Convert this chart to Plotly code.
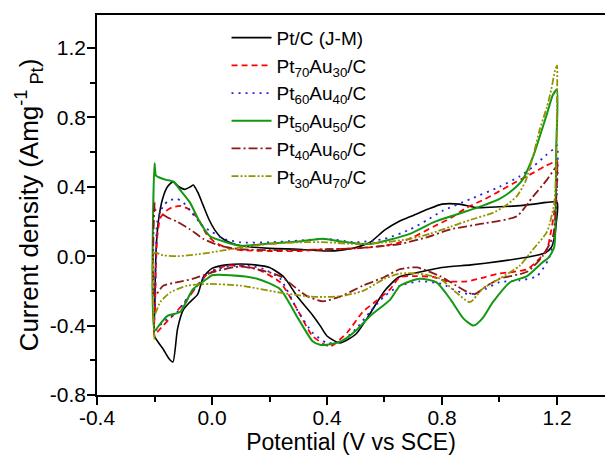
import plotly.graph_objects as go

# ---------------- data ----------------
x_ticks = [-0.4, 0.0, 0.4, 0.8, 1.2]
x_ticklabels = ["-0.4", "0.0", "0.4", "0.8", "1.2"]
y_ticks = [-0.8, -0.4, 0.0, 0.4, 0.8, 1.2]
y_ticklabels = ["-0.8", "-0.4", "0.0", "0.4", "0.8", "1.2"]
x_minor = [-0.2, 0.2, 0.6, 1.0]
y_minor = [-0.6, -0.2, 0.2, 0.6, 1.0]

series_names = [
    "Pt/C (J-M)",
    "Pt<sub>70</sub>Au<sub>30</sub>/C",
    "Pt<sub>60</sub>Au<sub>40</sub>/C",
    "Pt<sub>50</sub>Au<sub>50</sub>/C",
    "Pt<sub>40</sub>Au<sub>60</sub>/C",
    "Pt<sub>30</sub>Au<sub>70</sub>/C",
]

# Pt/C (J-M)
ptc_fwd_x = [-0.2, -0.199, -0.197, -0.193, -0.185, -0.172, -0.155, -0.135, -0.115, -0.095, -0.075, -0.065, -0.05,
             -0.03, -0.01, 0.01, 0.03, 0.06, 0.1, 0.2, 0.3, 0.4, 0.45, 0.5, 0.55, 0.6, 0.65, 0.7, 0.75, 0.8, 0.86,
             0.92, 1.0, 1.06, 1.12, 1.2]
ptc_fwd_y = [-0.46, -0.3, -0.1, 0.08, 0.22, 0.33, 0.40, 0.43, 0.40, 0.385, 0.40, 0.41, 0.37, 0.29, 0.21, 0.15,
             0.11, 0.08, 0.06, 0.045, 0.04, 0.03, 0.035, 0.05, 0.08, 0.15, 0.2, 0.235, 0.27, 0.30, 0.30, 0.28,
             0.285, 0.29, 0.30, 0.31]
ptc_rev_x = [1.198, 1.19, 1.18, 1.16, 1.13, 1.1, 1.0, 0.9, 0.8, 0.7, 0.65, 0.6, 0.55, 0.5, 0.445, 0.4, 0.376,
             0.35, 0.3, 0.25, 0.2, 0.15, 0.1, 0.05, 0.0, -0.03, -0.05, -0.08, -0.1, -0.12, -0.136, -0.15, -0.17,
             -0.2]
ptc_rev_y = [0.2, 0.1, 0.05, 0.02, 0.005, -0.005, -0.03, -0.05, -0.065, -0.1, -0.12, -0.2, -0.33, -0.45, -0.50,
             -0.46, -0.40, -0.34, -0.24, -0.12, -0.065, -0.05, -0.045, -0.05, -0.07, -0.12, -0.22, -0.27, -0.31,
             -0.42, -0.61, -0.59, -0.535, -0.46]

# Pt70Au30/C
a70_fwd_x = [-0.2, -0.198, -0.195, -0.19, -0.18, -0.16, -0.14, -0.11, -0.08, -0.05, -0.02, 0.01, 0.05, 0.1, 0.2,
             0.3, 0.4, 0.5, 0.6, 0.654, 0.7, 0.77, 0.83, 0.887, 0.95, 1.0, 1.06, 1.117, 1.16, 1.186, 1.2]
a70_fwd_y = [-0.45, -0.3, -0.05, 0.12, 0.22, 0.26, 0.28, 0.29, 0.27, 0.22, 0.13, 0.08, 0.05, 0.035, 0.03, 0.03,
             0.04, 0.045, 0.06, 0.08, 0.11, 0.17, 0.22, 0.28, 0.33, 0.375, 0.43, 0.48, 0.52, 0.54, 0.55]
a70_rev_x = [1.198, 1.19, 1.18, 1.165, 1.13, 1.096, 1.05, 1.0, 0.95, 0.887, 0.82, 0.77, 0.713, 0.654, 0.62, 0.57,
             0.525, 0.47, 0.41, 0.35, 0.296, 0.237, 0.157, 0.1, 0.05, 0.017, -0.02, -0.042, -0.087, -0.135, -0.17,
             -0.2]
a70_rev_y = [0.4, 0.25, 0.15, 0.04, -0.03, -0.075, -0.09, -0.10, -0.12, -0.145, -0.145, -0.12, -0.115, -0.12,
             -0.19, -0.26, -0.32, -0.44, -0.52, -0.46, -0.305, -0.15, -0.075, -0.055, -0.055, -0.075, -0.11,
             -0.15, -0.25, -0.34, -0.4, -0.45]

# Pt60Au40/C
a60_fwd_x = [-0.2, -0.198, -0.195, -0.19, -0.17, -0.15, -0.122, -0.1, -0.07, -0.03, 0.0, 0.04, 0.1, 0.2, 0.3,
             0.4, 0.5, 0.6, 0.69, 0.75, 0.8, 0.9, 1.0, 1.07, 1.12, 1.16, 1.186, 1.2]
a60_fwd_y = [-0.43, -0.25, 0.0, 0.2, 0.29, 0.32, 0.33, 0.31, 0.25, 0.17, 0.14, 0.1, 0.08, 0.08, 0.09, 0.1, 0.08,
             0.1, 0.155, 0.21, 0.26, 0.33, 0.40, 0.46, 0.52, 0.58, 0.615, 0.64]
a60_rev_x = [1.198, 1.19, 1.17, 1.13, 1.07, 1.0, 0.95, 0.9, 0.85, 0.8, 0.723, 0.654, 0.6, 0.55, 0.5, 0.45, 0.40,
             0.35, 0.3, 0.237, 0.18, 0.13, 0.05, -0.007, -0.052, -0.09, -0.12, -0.17, -0.2]
a60_rev_y = [0.3, 0.1, -0.02, -0.115, -0.14, -0.15, -0.19, -0.22, -0.2, -0.16, -0.145, -0.17, -0.23, -0.32, -0.42,
             -0.49, -0.50, -0.44, -0.32, -0.13, -0.075, -0.055, -0.06, -0.09, -0.17, -0.25, -0.32, -0.38, -0.43]

# Pt50Au50/C
a50_fwd_x = [-0.2, -0.2, -0.195, -0.185, -0.16, -0.135, -0.11, -0.077, -0.042, -0.007, 0.05, 0.1, 0.18, 0.3,
             0.386, 0.45, 0.55, 0.69, 0.77, 0.85, 0.94, 1.0, 1.037, 1.08, 1.117, 1.14, 1.165, 1.186, 1.2]
a50_fwd_y = [-0.43, 0.535, 0.465, 0.455, 0.44, 0.43, 0.38, 0.31, 0.195, 0.115, 0.08, 0.06, 0.07, 0.085, 0.1,
             0.085, 0.07, 0.13, 0.195, 0.24, 0.29, 0.33, 0.37, 0.44, 0.575, 0.69, 0.82, 0.93, 0.96]
a50_rev_x = [1.197, 1.195, 1.19, 1.17, 1.15, 1.096, 1.037, 0.977, 0.94, 0.91, 0.875, 0.83, 0.78, 0.723, 0.654,
             0.62, 0.55, 0.5, 0.45, 0.4, 0.376, 0.35, 0.3, 0.237, 0.157, 0.063, 0.0, -0.017, -0.066, -0.11, -0.156,
             -0.18, -0.2]
a50_rev_y = [0.6, 0.2, 0.05, -0.01, -0.035, -0.115, -0.15, -0.265, -0.36, -0.40, -0.36, -0.25, -0.15, -0.13,
             -0.17, -0.25, -0.345, -0.43, -0.49, -0.51, -0.51, -0.49, -0.36, -0.19, -0.13, -0.11, -0.11, -0.13,
             -0.19, -0.32, -0.345, -0.39, -0.43]

# Pt40Au60/C
a40_fwd_x = [-0.2, -0.2, -0.199, -0.18, -0.15, -0.122, -0.077, -0.03, 0.028, 0.1, 0.2, 0.3, 0.4, 0.5, 0.6, 0.654,
             0.75, 0.83, 0.95, 1.06, 1.117, 1.165, 1.19, 1.2]
a40_fwd_y = [-0.23, 0.31, 0.27, 0.25, 0.22, 0.2, 0.155, 0.1, 0.06, 0.04, 0.035, 0.035, 0.04, 0.045, 0.06, 0.07,
             0.11, 0.155, 0.19, 0.23, 0.345, 0.44, 0.5, 0.52]
a40_rev_x = [1.2, 1.195, 1.186, 1.15, 1.096, 1.0, 0.957, 0.91, 0.85, 0.793, 0.713, 0.654, 0.6, 0.525, 0.45, 0.386,
             0.33, 0.237, 0.157, 0.097, 0.017, -0.066, -0.12, -0.17, -0.2]
a40_rev_y = [0.45, 0.25, 0.115, 0.0, -0.09, -0.13, -0.17, -0.22, -0.17, -0.115, -0.065, -0.075, -0.12, -0.17,
             -0.23, -0.26, -0.23, -0.115, -0.075, -0.06, -0.085, -0.13, -0.15, -0.17, -0.23]

# Pt30Au70/C
a30_fwd_x = [-0.2, -0.2, -0.17, -0.12, -0.052, 0.028, 0.1, 0.2, 0.3, 0.4, 0.5, 0.6, 0.69, 0.76, 0.83, 0.9, 0.977,
             1.02, 1.06, 1.09, 1.117, 1.14, 1.165, 1.18, 1.193, 1.2]
a30_fwd_y = [-0.48, 0.02, 0.005, 0.0, 0.01, 0.03, 0.05, 0.07, 0.08, 0.08, 0.07, 0.08, 0.1, 0.13, 0.17, 0.21, 0.25,
             0.29, 0.345, 0.43, 0.58, 0.73, 0.86, 0.96, 1.07, 1.1]
a30_rev_x = [1.2, 1.197, 1.19, 1.165, 1.117, 1.07, 1.0, 0.94, 0.897, 0.85, 0.793, 0.72, 0.654, 0.6, 0.525, 0.45,
             0.365, 0.3, 0.237, 0.1, -0.007, -0.087, -0.146, -0.18, -0.2]
a30_rev_y = [0.9, 0.5, 0.3, 0.14, 0.04, -0.055, -0.13, -0.19, -0.265, -0.21, -0.13, -0.1, -0.1, -0.13, -0.2,
             -0.23, -0.235, -0.225, -0.21, -0.17, -0.16, -0.17, -0.21, -0.265, -0.345]

# ---------------- styling ----------------
FONT = "Liberation Sans, Arial, sans-serif"
styles = [
    dict(color="#000000", width=1.6, dash="solid"),
    dict(color="#FF0000", width=1.8, dash="6px,4px"),
    dict(color="#2222DD", width=1.8, dash="2px,5px"),
    dict(color="#129812", width=2.0, dash="solid"),
    dict(color="#8B1A1A", width=1.8, dash="9px,3px,2px,3px"),
    dict(color="#939300", width=1.8, dash="7px,2px,2px,2px,2px,2px"),
]
curves = [
    (ptc_fwd_x + ptc_rev_x, ptc_fwd_y + ptc_rev_y),
    (a70_fwd_x + a70_rev_x, a70_fwd_y + a70_rev_y),
    (a60_fwd_x + a60_rev_x, a60_fwd_y + a60_rev_y),
    (a50_fwd_x + a50_rev_x, a50_fwd_y + a50_rev_y),
    (a40_fwd_x + a40_rev_x, a40_fwd_y + a40_rev_y),
    (a30_fwd_x + a30_rev_x, a30_fwd_y + a30_rev_y),
]

fig = go.Figure()
for name, (xs, ys), st in zip(series_names, curves, styles):
    fig.add_trace(go.Scatter(x=xs, y=ys, mode="lines", name=name,
                             line=dict(color=st["color"], width=st["width"], dash=st["dash"],
                                       shape="spline", smoothing=0.6)))

fig.update_layout(
    width=605, height=457,
    margin=dict(l=97, r=0, t=15, b=62, autoexpand=False),
    paper_bgcolor="white", plot_bgcolor="white",
    font=dict(family=FONT, color="black", size=20),
    showlegend=True,
    legend=dict(x=0.255, y=0.99, xanchor="left", yanchor="top",
                font=dict(family=FONT, size=19, color="black"),
                bgcolor="rgba(255,255,255,0)", itemwidth=40),
)
fig.update_xaxes(
    automargin=False,
    range=[-0.4, 1.367], showgrid=False, zeroline=False,
    showline=True, linecolor="black", linewidth=1.5, mirror=True,
    ticks="outside", ticklen=8, tickwidth=1.5, tickcolor="black",
    tickmode="array", tickvals=x_ticks, ticktext=x_ticklabels,
    tickfont=dict(family=FONT, size=21), ticklabelstandoff=-5,
    minor=dict(tickmode="array", tickvals=x_minor, ticks="outside", ticklen=5, tickwidth=1.5,
               tickcolor="black", showgrid=False),
    title=dict(text="Potential (V vs SCE)", font=dict(family=FONT, size=23), standoff=0),
)
fig.update_yaxes(
    automargin=False,
    range=[-0.8, 1.39], showgrid=False, zeroline=False,
    showline=True, linecolor="black", linewidth=1.5, mirror=False,
    ticks="outside", ticklen=8, tickwidth=1.5, tickcolor="black",
    tickmode="array", tickvals=y_ticks, ticktext=y_ticklabels,
    tickfont=dict(family=FONT, size=21), ticklabelstandoff=-3,
    minor=dict(tickmode="array", tickvals=y_minor, ticks="outside", ticklen=5, tickwidth=1.5,
               tickcolor="black", showgrid=False),
    title=dict(text="Current density (Amg<sup>-1</sup><sub> Pt</sub>)", font=dict(family=FONT, size=26),
               standoff=4),
)

fig.write_html("out.html", config={"displayModeBar": False},
               post_script="document.body.style.margin='0px';document.body.style.overflow='hidden';")
